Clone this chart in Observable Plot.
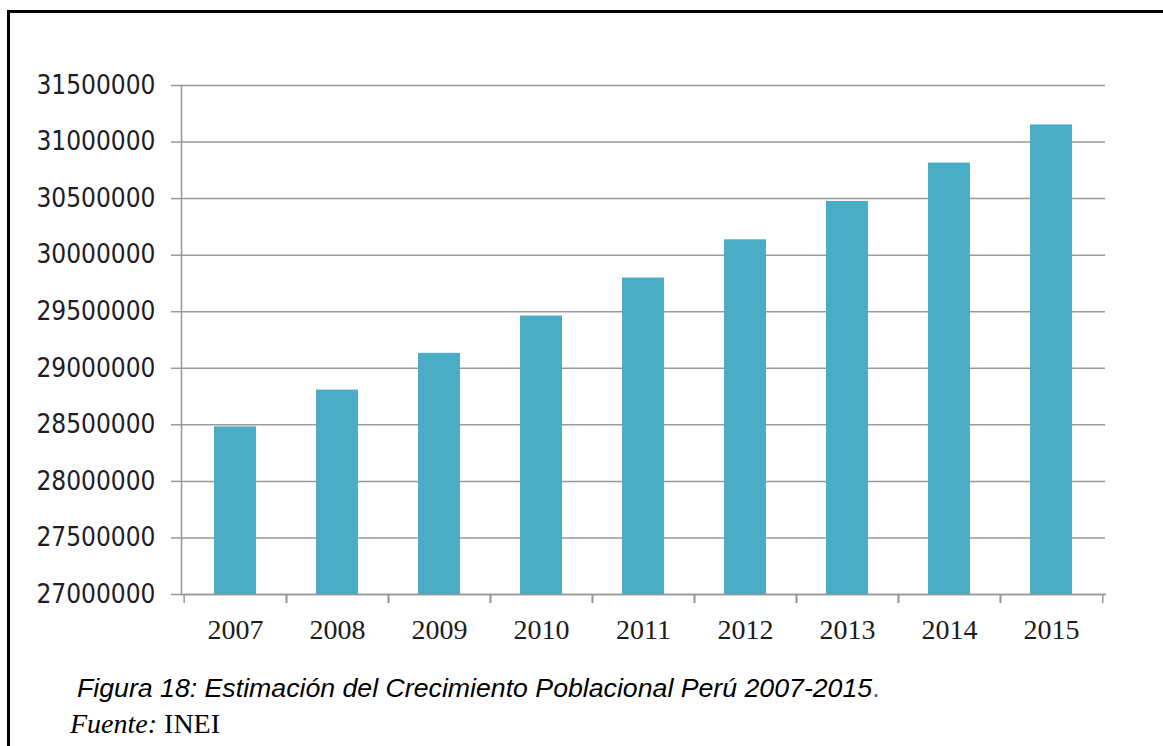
<!DOCTYPE html>
<html>
<head>
<meta charset="utf-8">
<script src="https://cdn.jsdelivr.net/npm/d3@7"></script>
<script src="https://cdn.jsdelivr.net/npm/@observablehq/plot@0.6"></script>
<style>
  html, body { margin: 0; padding: 0; background: #fff; }
  #page { position: relative; width: 1163px; height: 746px; overflow: hidden; background: #fff; }
  #chart { position: absolute; left: 0; top: 0; }
  #border { position: absolute; left: 7px; top: 10px; width: 1200px; height: 800px;
            border-top: 3px solid #000; border-left: 3px solid #000; z-index: 2; pointer-events: none; }
  #caption { position: absolute; left: 77px; top: 675px;
             font-family: "Liberation Sans", Arial, sans-serif; font-style: italic; font-size: 26.7px;
             line-height: 26.7px; color: #000; white-space: nowrap; }
  #caption .dot { color: #2e5fb8; font-style: normal; }
  #source { position: absolute; left: 70px; top: 710px; font-family: "Liberation Serif", "Times New Roman", serif;
            font-size: 28px; line-height: 28px; color: #000; white-space: nowrap; }
</style>
</head>
<body>
<div id="page">
  <div id="chart"></div>
  <div id="border"></div>
  <div id="caption">Figura 18: Estimación del Crecimiento Poblacional Perú 2007-2015<span class="dot">.</span></div>
  <div id="source"><i>Fuente:</i> INEI</div>
</div>
<script>
const years = ["2007", "2008", "2009", "2010", "2011", "2012", "2013", "2014", "2015"];
const population = [28481901, 28807034, 29132013, 29461933, 29797694, 30135875, 30475144, 30814175, 31151643];
const yTicks = [27000000, 27500000, 28000000, 28500000, 29000000, 29500000, 30000000, 30500000, 31000000, 31500000];

const data = years.map((year, i) => ({year, population: population[i]}));

const W = 1163, H = 660, ML = 181, MR = 58, MT = 85, MB = 66;
const step = (W - ML - MR) / years.length;
const gridColor = "#999999";

const chart = Plot.plot({
  width: W,
  height: H,
  marginLeft: ML,
  marginRight: MR,
  marginTop: MT,
  marginBottom: MB,
  style: {background: "transparent"},
  x: {domain: years, paddingInner: 0.59, paddingOuter: 0.295, label: null},
  y: {domain: [yTicks[0], yTicks[yTicks.length - 1]], label: null},
  marks: [
    Plot.gridY(yTicks, {stroke: gridColor, strokeOpacity: 1, strokeWidth: 1.5}),
    Plot.barY(data, {x: "year", y1: () => yTicks[0], y2: "population", fill: "#4BACC6"}),
    Plot.frame({anchor: "left", stroke: gridColor, strokeWidth: 1.5}),
    Plot.frame({anchor: "bottom", stroke: gridColor, strokeWidth: 1.5}),
    Plot.axisY(yTicks, {
      tickSize: 10, tickPadding: 16, tickFormat: d => String(d),
      stroke: gridColor, strokeWidth: 1.5, fill: "#1c1c2a",
      fontSize: 26, fontFamily: "'DejaVu Sans Condensed', 'DejaVu Sans', sans-serif", label: null
    }),
    Plot.axisX({tickSize: 9, tickFormat: () => "", dx: -step / 2, stroke: gridColor, strokeWidth: 1.5, label: null}),
    Plot.axisX({tickSize: 9, tickFormat: () => "", dx: step / 2, stroke: gridColor, strokeWidth: 1.5, label: null}),
    Plot.axisX({
      tickSize: 0, tickPadding: 25, fill: "#1c1c1c",
      fontSize: 28, fontFamily: "'Liberation Serif', 'Times New Roman', serif", label: null
    })
  ]
});
document.getElementById("chart").appendChild(chart);
</script>
</body>
</html>
